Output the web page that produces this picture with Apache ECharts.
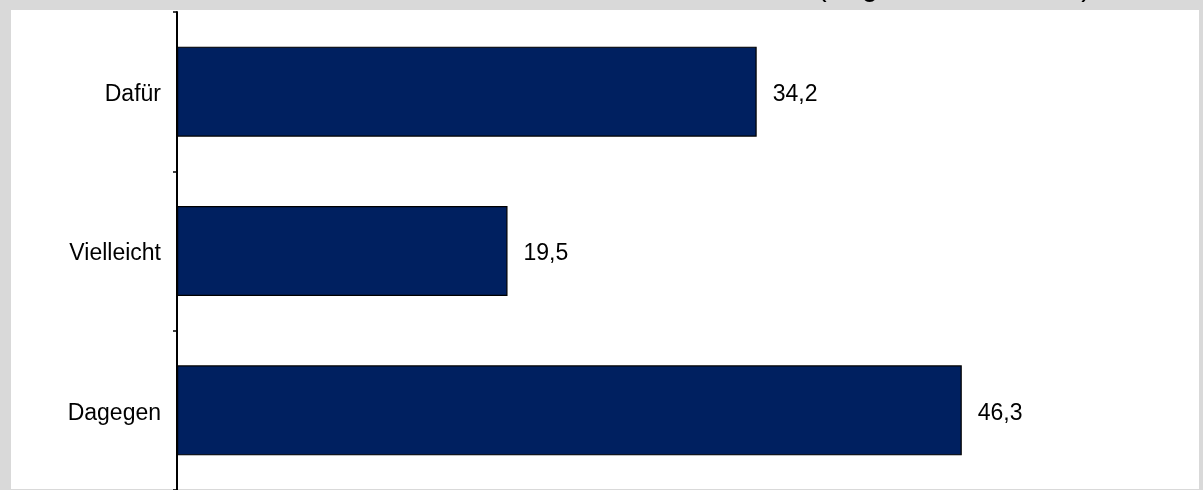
<!DOCTYPE html>
<html>
<head>
<meta charset="utf-8">
<script src="https://cdn.jsdelivr.net/npm/echarts@6/dist/echarts.min.js"></script>
<style>
html,body{margin:0;padding:0;background:#d9d9d9;}
#c{width:1203px;height:490px;}
</style>
</head>
<body>
<div id="c"></div>
<script>
const categories = ['Dafür', 'Vielleicht', 'Dagegen'];
const values = [34.2, 19.5, 46.3];
const titleText = '(Angaben in Prozent)';

const chart = echarts.init(document.getElementById('c'), null, {renderer: 'canvas'});
const font = '"Liberation Sans", Arial, sans-serif';
chart.setOption({
  backgroundColor: '#d9d9d9',
  animation: false,
  title: {
    text: titleText,
    right: 112,
    top: -27,
    padding: 0,
    z: 1,
    textStyle: {fontFamily: font, fontSize: 29, fontWeight: 'normal', color: '#000'}
  },
  graphic: [{
    type: 'rect', z: 5, silent: true,
    shape: {x: 11, y: 10, width: 1188, height: 479},
    style: {fill: '#ffffff'}
  }],
  grid: {left: 177, top: 12, width: 1017, height: 480, containLabel: false, z: 10},
  xAxis: {
    type: 'value', min: 0, max: 60, show: false
  },
  yAxis: {
    type: 'category',
    data: categories,
    inverse: true,
    z: 10,
    axisLine: {show: true, lineStyle: {color: '#000', width: 2}},
    axisTick: {show: true, length: 4, lineStyle: {color: '#000', width: 1.5}},
    axisLabel: {margin: 16, fontFamily: font, fontSize: 23, color: '#000', verticalAlign: 'top', lineHeight: 6},
    splitLine: {show: false}
  },
  series: [{
    type: 'bar',
    z: 10,
    data: values,
    barWidth: 90,
    itemStyle: {color: '#002060', borderColor: '#000', borderWidth: 1.2},
    label: {
      show: true, position: 'right', distance: 16, offset: [0, 3],
      fontFamily: font, fontSize: 23, color: '#000',
      formatter: p => p.value.toFixed(1).replace('.', ',')
    }
  }]
});
</script>
</body>
</html>
